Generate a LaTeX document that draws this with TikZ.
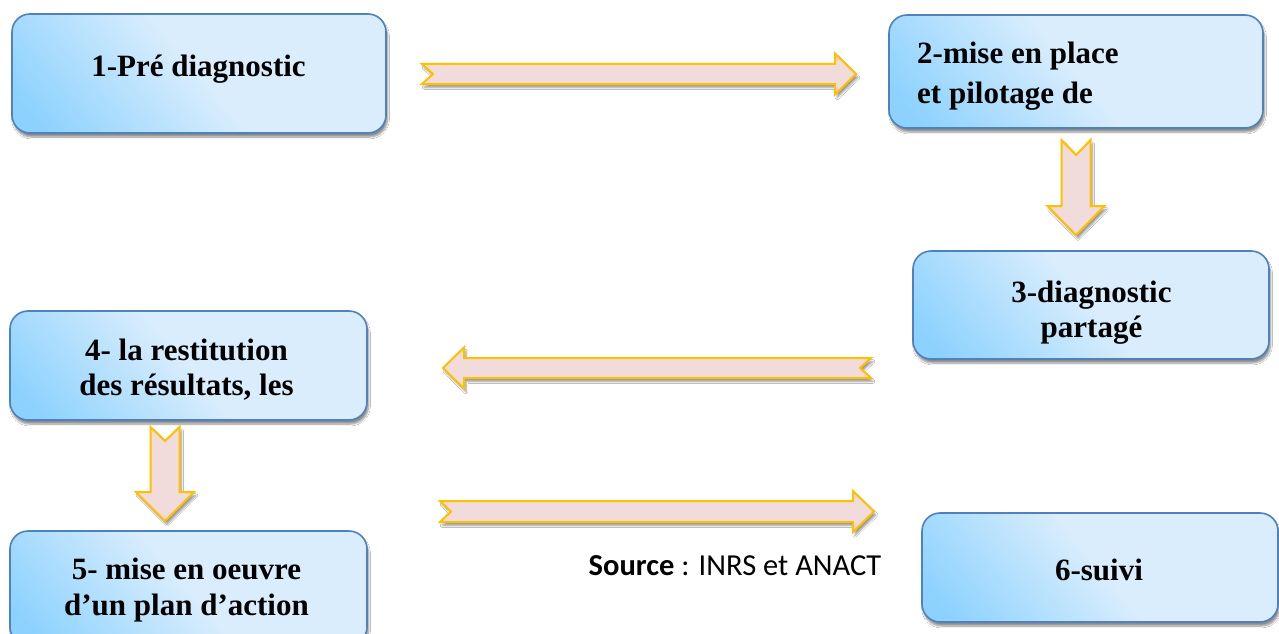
\documentclass[tikz,border=0pt]{standalone}
\usepackage{fontspec}
\setmainfont{Liberation Serif}
\newfontfamily\srcfont{Carlito}
\usetikzlibrary{shadows.blur}

\definecolor{stageedge}{HTML}{4F81BD}
\definecolor{skyA}{HTML}{8DD2FE}
\definecolor{skyB}{HTML}{D9EDFD}
\definecolor{arrowfill}{HTML}{F2DCDB}
\definecolor{arrowedge}{HTML}{FFC000}

\pgfdeclarehorizontalshading{stageshade}{100bp}{color(0bp)=(skyA); color(20bp)=(skyA); color(50bp)=(skyB); color(100bp)=(skyB)}

% horizontal block arrow: tail x, tip x, centre y, half shaft, half head, head length, notch depth, direction (+1 right / -1 left)
\newcommand\hblockarrow[8]{%
  \draw[blockarrow] (#1,{#3-#4}) -- ({#2-(#8)*(#6)},{#3-#4}) -- ({#2-(#8)*(#6)},{#3-#5})
    -- (#2,#3) -- ({#2-(#8)*(#6)},{#3+#5}) -- ({#2-(#8)*(#6)},{#3+#4})
    -- (#1,{#3+#4}) -- ({#1+(#8)*(#7)},#3) -- cycle;}
% vertical block arrow: centre x, tail y, tip y, half shaft, half head, head length, notch depth, direction (+1 down / -1 up)
\newcommand\vblockarrow[8]{%
  \draw[blockarrow] ({#1-#4},#2) -- ({#1-#4},{#3-(#8)*(#6)}) -- ({#1-#5},{#3-(#8)*(#6)})
    -- (#1,#3) -- ({#1+#5},{#3-(#8)*(#6)}) -- ({#1+#4},{#3-(#8)*(#6)})
    -- ({#1+#4},#2) -- (#1,{#2+(#8)*(#7)}) -- cycle;}

\begin{document}
\begin{tikzpicture}[x=1pt,y=-1pt,
  stage/.style={draw=stageedge, line width=1.6pt, rounded corners=18pt,
    shading=stageshade, shading angle=40, inner sep=0pt,
    blur shadow={shadow xshift=1.5pt, shadow yshift=-4pt, shadow blur steps=8, shadow opacity=45}},
  stagetext/.style={font=\bfseries\fontsize{31}{35}\selectfont, align=center, inner sep=0pt},
  blockarrow/.style={draw=arrowedge, fill=arrowfill, line width=2pt, line join=miter,
    blur shadow={shadow xshift=2pt, shadow yshift=-3.5pt, shadow blur steps=6, shadow opacity=40}}
]
\useasboundingbox (0,0) rectangle (1279,634);
\fill[white] (0,0) rectangle (1279,634);
\clip (0,0) rectangle (1279,634);

% stage boxes
\node[stage, minimum width=374pt, minimum height=119pt] (s1) at (199,73.5) {};
\node[stage, minimum width=374pt, minimum height=113pt] (s2) at (1076,71.5) {};
\node[stage, minimum width=356pt, minimum height=108pt] (s3) at (1091,305) {};
\node[stage, minimum width=357pt, minimum height=109pt] (s4) at (188.5,365.5) {};
\node[stage, minimum width=357pt, minimum height=114pt] (s5) at (188.5,588) {};
\node[stage, minimum width=356pt, minimum height=109pt] (s6) at (1100,567.5) {};

% stage labels
\node[stagetext, anchor=base] (t1) at (198.5,76) {1-Pré diagnostic};
\node[stagetext, align=left, anchor=west, font=\bfseries\fontsize{31}{40}\selectfont] (t2) at (917,76) {2-mise en place\\et pilotage de};
\node[stagetext] (t3) at (1091.5,312.5) {3-diagnostic\\partagé};
\node[stagetext] (t4) at (186.5,369.5) {4- la restitution\\des résultats, les};
\node[stagetext, font=\bfseries\fontsize{31}{36}\selectfont] (t5) at (186.5,590) {5- mise en oeuvre\\d’un plan d’action};
\node[stagetext, anchor=base] (t6) at (1099,580) {6-suivi};

% source line
\node[anchor=base, inner sep=0pt, font=\srcfont\fontsize{30.5}{34}\selectfont] (src) at (735,575) {\textbf{Source} : INRS et ANACT};

% block arrows between the stages
\hblockarrow{422}{856}{74}{10}{20.5}{21}{11}{1}
\vblockarrow{1076}{140}{235}{14.5}{28.5}{29}{15}{1}
\hblockarrow{871}{443}{368}{10}{20.5}{21}{11}{-1}
\vblockarrow{165}{427}{521}{14.5}{29}{29}{14}{1}
\hblockarrow{440}{874}{511.5}{10.5}{20.5}{21}{11}{1}
\end{tikzpicture}
\end{document}
